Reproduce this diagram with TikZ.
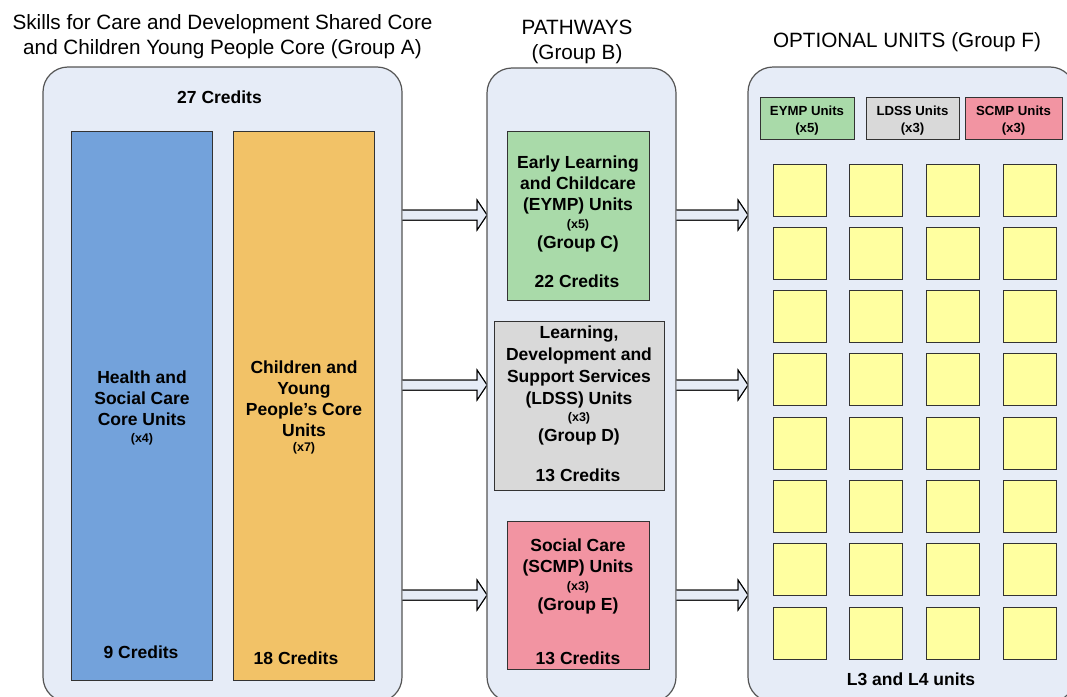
\documentclass[tikz,border=0pt]{standalone}
\usepackage{fontspec}
\setmainfont{Liberation Sans}
\definecolor{contfill}{RGB}{230,236,247}
\definecolor{contline}{RGB}{85,85,85}
\definecolor{cblue}{RGB}{115,162,219}
\definecolor{corange}{RGB}{242,194,103}
\definecolor{cgreen}{RGB}{169,218,169}
\definecolor{cgray}{RGB}{217,217,217}
\definecolor{cpink}{RGB}{242,148,162}
\definecolor{cyellow}{RGB}{255,255,160}
\newcommand\blockarr[3]{%
  \filldraw[arrowline] (#1,#3-5) -- (#2-10,#3-5) -- (#2-10,#3-15) -- (#2,#3) -- (#2-10,#3+15) -- (#2-10,#3+5) -- (#1,#3+5);}
\tikzset{
  container/.style={draw=contline, fill=contfill, line width=1.2pt, rounded corners=25pt, inner sep=0pt},
  unitbox/.style={draw=black!80, line width=1pt, inner sep=0pt},
  bigtxt/.style={font=\fontsize{17.5}{21}\selectfont\bfseries, align=center, inner sep=0pt},
  smalltxt/.style={font=\fontsize{12.5}{15}\selectfont\bfseries, inner sep=0pt},
  titletxt/.style={font=\fontsize{20.7}{25}\selectfont, align=center, inner sep=0pt},
  hdrtxt/.style={font=\fontsize{13.2}{17.5}\selectfont\bfseries, align=center, inner sep=0pt},
  arrowline/.style={draw=black, fill=contfill, line width=1pt},
}
\begin{document}
\begin{tikzpicture}[x=1pt,y=-1pt]
\useasboundingbox (0,0) rectangle (1067,696);
\clip (0,0) rectangle (1067,696);
\fill[white] (0,0) rectangle (1067,696);

% titles
\node[titletxt] (tA) at (222.5,37) {Skills for Care and Development Shared Core\\and Children Young People Core (Group A)};
\node[titletxt] (tB) at (577,41.5) {PATHWAYS\\(Group B)};
\node[titletxt] (tF) at (907,42) {OPTIONAL UNITS (Group F)};

% arrows (behind containers)
\blockarr{400}{487}{215}
\blockarr{400}{487}{385}
\blockarr{400}{487}{595}
\blockarr{674}{748}{215}
\blockarr{674}{748}{385}
\blockarr{674}{748}{595}

% containers
\node[container, minimum width=359pt, minimum height=635pt] (grpA) at (222.5,384.5) {};
\node[container, minimum width=189pt, minimum height=634pt] (grpB) at (581.5,385) {};
\node[container, minimum width=327pt, minimum height=635pt] (grpF) at (911.5,384.5) {};

% redraw arrow pieces between containers on top
\begin{scope}
\clip (402.6,0) rectangle (486.4,696);
\blockarr{400}{487}{215}
\blockarr{400}{487}{385}
\blockarr{400}{487}{595}
\end{scope}
\begin{scope}
\clip (676.6,0) rectangle (747.4,696);
\blockarr{674}{748}{215}
\blockarr{674}{748}{385}
\blockarr{674}{748}{595}
\end{scope}

% Group A
\node[bigtxt] (credA) at (219.5,97) {27 Credits};
\node[unitbox, fill=cblue, minimum width=141pt, minimum height=549pt] (hsc) at (141.5,405.5) {};
\node[unitbox, fill=corange, minimum width=141pt, minimum height=549pt] (cyp) at (303.5,405.5) {};
\node[bigtxt] (hscT) at (142,398) {Health and\\Social Care\\Core Units};
\node[smalltxt] (hscN) at (142,439) {(x4)};
\node[bigtxt] (hscC) at (141,652) {9 Credits};
\node[bigtxt] (cypT) at (304,398.5) {Children and\\Young\\People’s Core\\Units};
\node[smalltxt] (cypN) at (304,448) {(x7)};
\node[bigtxt] (cypC) at (296,658) {18 Credits};

% Group B
\node[unitbox, fill=cgreen, minimum width=142pt, minimum height=169pt] (eymp) at (578,215.5) {};
\node[bigtxt] (eympT) at (578,184.5) {Early Learning\\and Childcare\\(EYMP) Units};
\node[smalltxt] (eympN) at (578,225.5) {(x5)};
\node[bigtxt] (eympG) at (578,244) {(Group C)};
\node[bigtxt] (eympC) at (577,281) {22 Credits};

\node[unitbox, fill=cgray, minimum width=170pt, minimum height=169pt] (ldss) at (579,405.5) {};
\node[bigtxt, font=\fontsize{17.5}{22}\selectfont\bfseries] (ldssT) at (579,367) {Learning,\\Development and\\Support Services\\(LDSS) Units};
\node[smalltxt] (ldssN) at (579,418) {(x3)};
\node[bigtxt] (ldssG) at (579,437) {(Group D)};
\node[bigtxt] (ldssC) at (578,475) {13 Credits};

\node[unitbox, fill=cpink, minimum width=142pt, minimum height=148pt] (scmp) at (578,595) {};
\node[bigtxt] (scmpT) at (578,557) {Social Care\\(SCMP) Units};
\node[smalltxt] (scmpN) at (578,587.5) {(x3)};
\node[bigtxt] (scmpG) at (578,606) {(Group E)};
\node[bigtxt] (scmpC) at (578,658) {13 Credits};

% Group F headers
\node[unitbox, fill=cgreen, minimum width=94pt, minimum height=42pt] (hE) at (807,118) {};
\node[unitbox, fill=cgray, minimum width=93pt, minimum height=42pt] (hL) at (912.5,118) {};
\node[unitbox, fill=cpink, minimum width=97pt, minimum height=42pt] (hS) at (1013.5,118) {};
\node[hdrtxt] (hEt) at (807,120.5) {EYMP Units\\(x5)};
\node[hdrtxt] (hLt) at (912.5,120.5) {LDSS Units\\(x3)};
\node[hdrtxt] (hSt) at (1013.5,120.5) {SCMP Units\\(x3)};

% yellow squares
\foreach \i in {0,...,7}{
  \foreach \j in {0,...,3}{
    \node[unitbox, fill=cyellow, minimum width=53pt, minimum height=52pt] (sq-\i-\j) at (799.5+76.67*\j, 190+63.29*\i) {};
  }
}
\node[bigtxt] (l34) at (911,679) {L3 and L4 units};
\end{tikzpicture}
\end{document}
